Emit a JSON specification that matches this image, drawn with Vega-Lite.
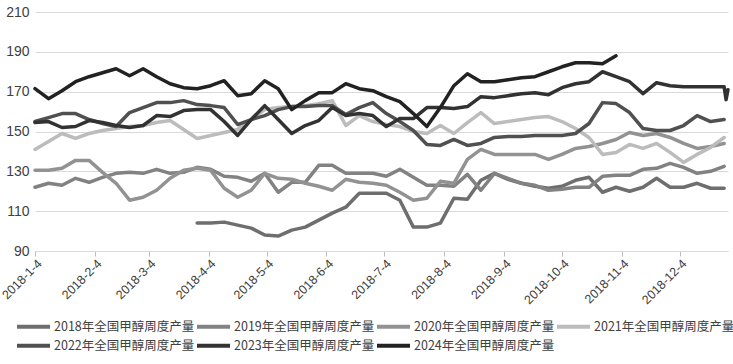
{
  "$schema": "https://vega.github.io/schema/vega-lite/v6.json",
  "width": 693,
  "height": 239,
  "autosize": {"type": "none"},
  "padding": {"left": 35, "top": 12, "right": 5, "bottom": 113},
  "background": "white",
  "config": {
    "view": {"stroke": null},
    "font": "Liberation Sans",
    "legend": {
      "orient": "none",
      "direction": "horizontal",
      "title": null,
      "symbolType": "stroke",
      "symbolStrokeWidth": 4,
      "symbolSize": 1089,
      "labelFont": "Noto Sans CJK SC",
      "labelFontSize": 12.5,
      "labelColor": "#404040",
      "labelOffset": 2,
      "labelLimit": 300,
      "columnPadding": -8
    }
  },
  "datasets": {
    "rows": [
      {"d":"2018-03-29","s":"2018","v":104},{"d":"2018-04-05","s":"2018","v":104},{"d":"2018-04-12","s":"2018","v":104.5},{"d":"2018-04-19","s":"2018","v":103},{"d":"2018-04-26","s":"2018","v":101.5},{"d":"2018-05-03","s":"2018","v":98},{"d":"2018-05-10","s":"2018","v":97.5},{"d":"2018-05-17","s":"2018","v":100.5},{"d":"2018-05-24","s":"2018","v":102},{"d":"2018-05-31","s":"2018","v":105.5},{"d":"2018-06-07","s":"2018","v":109},{"d":"2018-06-14","s":"2018","v":112},{"d":"2018-06-21","s":"2018","v":119},{"d":"2018-06-28","s":"2018","v":119},{"d":"2018-07-05","s":"2018","v":119},{"d":"2018-07-12","s":"2018","v":115.5},{"d":"2018-07-19","s":"2018","v":102},{"d":"2018-07-26","s":"2018","v":102},{"d":"2018-08-02","s":"2018","v":104},{"d":"2018-08-09","s":"2018","v":116.5},{"d":"2018-08-16","s":"2018","v":116},{"d":"2018-08-23","s":"2018","v":125.5},{"d":"2018-08-30","s":"2018","v":129},{"d":"2018-09-06","s":"2018","v":126},{"d":"2018-09-13","s":"2018","v":124},{"d":"2018-09-20","s":"2018","v":122.5},{"d":"2018-09-27","s":"2018","v":121.5},{"d":"2018-10-04","s":"2018","v":122.5},{"d":"2018-10-11","s":"2018","v":125.5},{"d":"2018-10-18","s":"2018","v":127},{"d":"2018-10-25","s":"2018","v":119.5},{"d":"2018-11-01","s":"2018","v":122},{"d":"2018-11-08","s":"2018","v":120},{"d":"2018-11-15","s":"2018","v":122},{"d":"2018-11-22","s":"2018","v":126.5},{"d":"2018-11-29","s":"2018","v":122},{"d":"2018-12-06","s":"2018","v":122},{"d":"2018-12-13","s":"2018","v":124},{"d":"2018-12-20","s":"2018","v":121.5},{"d":"2018-12-27","s":"2018","v":121.5},

      {"d":"2018-01-04","s":"2019","v":122},{"d":"2018-01-11","s":"2019","v":124},{"d":"2018-01-18","s":"2019","v":123},{"d":"2018-01-25","s":"2019","v":126.5},{"d":"2018-02-01","s":"2019","v":124.5},{"d":"2018-02-08","s":"2019","v":127},{"d":"2018-02-15","s":"2019","v":129},{"d":"2018-02-22","s":"2019","v":129.5},{"d":"2018-03-01","s":"2019","v":129},{"d":"2018-03-08","s":"2019","v":131},{"d":"2018-03-15","s":"2019","v":129},{"d":"2018-03-22","s":"2019","v":129.5},{"d":"2018-03-29","s":"2019","v":132},{"d":"2018-04-05","s":"2019","v":131},{"d":"2018-04-12","s":"2019","v":127.5},{"d":"2018-04-19","s":"2019","v":127},{"d":"2018-04-26","s":"2019","v":125},{"d":"2018-05-03","s":"2019","v":129},{"d":"2018-05-10","s":"2019","v":119.5},{"d":"2018-05-17","s":"2019","v":124.5},{"d":"2018-05-24","s":"2019","v":124.5},{"d":"2018-05-31","s":"2019","v":133},{"d":"2018-06-07","s":"2019","v":133},{"d":"2018-06-14","s":"2019","v":129},{"d":"2018-06-21","s":"2019","v":129},{"d":"2018-06-28","s":"2019","v":129},{"d":"2018-07-05","s":"2019","v":127.5},{"d":"2018-07-12","s":"2019","v":131},{"d":"2018-07-19","s":"2019","v":127},{"d":"2018-07-26","s":"2019","v":123},{"d":"2018-08-02","s":"2019","v":123},{"d":"2018-08-09","s":"2019","v":122.5},{"d":"2018-08-16","s":"2019","v":128.5},{"d":"2018-08-23","s":"2019","v":120.5},{"d":"2018-08-30","s":"2019","v":129},{"d":"2018-09-06","s":"2019","v":126.5},{"d":"2018-09-13","s":"2019","v":124},{"d":"2018-09-20","s":"2019","v":123},{"d":"2018-09-27","s":"2019","v":120.5},{"d":"2018-10-04","s":"2019","v":121},{"d":"2018-10-11","s":"2019","v":122},{"d":"2018-10-18","s":"2019","v":122},{"d":"2018-10-25","s":"2019","v":127.5},{"d":"2018-11-01","s":"2019","v":128},{"d":"2018-11-08","s":"2019","v":128},{"d":"2018-11-15","s":"2019","v":131},{"d":"2018-11-22","s":"2019","v":131.5},{"d":"2018-11-29","s":"2019","v":134},{"d":"2018-12-06","s":"2019","v":132},{"d":"2018-12-13","s":"2019","v":129},{"d":"2018-12-20","s":"2019","v":130},{"d":"2018-12-27","s":"2019","v":132.5},

      {"d":"2018-01-04","s":"2020","v":130.5},{"d":"2018-01-11","s":"2020","v":130.5},{"d":"2018-01-18","s":"2020","v":131.5},{"d":"2018-01-25","s":"2020","v":135.5},{"d":"2018-02-01","s":"2020","v":135.5},{"d":"2018-02-08","s":"2020","v":129.5},{"d":"2018-02-15","s":"2020","v":124},{"d":"2018-02-22","s":"2020","v":115.5},{"d":"2018-03-01","s":"2020","v":117},{"d":"2018-03-08","s":"2020","v":120.5},{"d":"2018-03-15","s":"2020","v":126.5},{"d":"2018-03-22","s":"2020","v":130.5},{"d":"2018-03-29","s":"2020","v":131.5},{"d":"2018-04-05","s":"2020","v":130.5},{"d":"2018-04-12","s":"2020","v":121.5},{"d":"2018-04-19","s":"2020","v":117},{"d":"2018-04-26","s":"2020","v":120.5},{"d":"2018-05-03","s":"2020","v":129},{"d":"2018-05-10","s":"2020","v":126.5},{"d":"2018-05-17","s":"2020","v":126},{"d":"2018-05-24","s":"2020","v":124},{"d":"2018-05-31","s":"2020","v":122.5},{"d":"2018-06-07","s":"2020","v":120.5},{"d":"2018-06-14","s":"2020","v":126},{"d":"2018-06-21","s":"2020","v":124.5},{"d":"2018-06-28","s":"2020","v":124},{"d":"2018-07-05","s":"2020","v":123},{"d":"2018-07-12","s":"2020","v":119.5},{"d":"2018-07-19","s":"2020","v":115.5},{"d":"2018-07-26","s":"2020","v":116.5},{"d":"2018-08-02","s":"2020","v":125},{"d":"2018-08-09","s":"2020","v":124},{"d":"2018-08-16","s":"2020","v":136},{"d":"2018-08-23","s":"2020","v":141},{"d":"2018-08-30","s":"2020","v":138.5},{"d":"2018-09-06","s":"2020","v":138.5},{"d":"2018-09-13","s":"2020","v":138.5},{"d":"2018-09-20","s":"2020","v":138.5},{"d":"2018-09-27","s":"2020","v":136},{"d":"2018-10-04","s":"2020","v":138.5},{"d":"2018-10-11","s":"2020","v":141.5},{"d":"2018-10-18","s":"2020","v":142.5},{"d":"2018-10-25","s":"2020","v":144},{"d":"2018-11-01","s":"2020","v":146},{"d":"2018-11-08","s":"2020","v":149.5},{"d":"2018-11-15","s":"2020","v":148},{"d":"2018-11-22","s":"2020","v":149},{"d":"2018-11-29","s":"2020","v":147},{"d":"2018-12-06","s":"2020","v":144},{"d":"2018-12-13","s":"2020","v":141.5},{"d":"2018-12-20","s":"2020","v":142.5},{"d":"2018-12-27","s":"2020","v":144},

      {"d":"2018-01-04","s":"2021","v":141},{"d":"2018-01-11","s":"2021","v":145},{"d":"2018-01-18","s":"2021","v":149},{"d":"2018-01-25","s":"2021","v":146.5},{"d":"2018-02-01","s":"2021","v":149},{"d":"2018-02-08","s":"2021","v":150.5},{"d":"2018-02-15","s":"2021","v":151.5},{"d":"2018-02-22","s":"2021","v":152.5},{"d":"2018-03-01","s":"2021","v":153},{"d":"2018-03-08","s":"2021","v":154.5},{"d":"2018-03-15","s":"2021","v":155.5},{"d":"2018-03-22","s":"2021","v":151},{"d":"2018-03-29","s":"2021","v":146.5},{"d":"2018-04-05","s":"2021","v":148},{"d":"2018-04-12","s":"2021","v":149.5},{"d":"2018-04-19","s":"2021","v":151},{"d":"2018-04-26","s":"2021","v":156},{"d":"2018-05-03","s":"2021","v":161},{"d":"2018-05-10","s":"2021","v":162},{"d":"2018-05-17","s":"2021","v":162.5},{"d":"2018-05-24","s":"2021","v":163},{"d":"2018-05-31","s":"2021","v":164},{"d":"2018-06-07","s":"2021","v":165.5},{"d":"2018-06-14","s":"2021","v":153},{"d":"2018-06-21","s":"2021","v":158},{"d":"2018-06-28","s":"2021","v":155},{"d":"2018-07-05","s":"2021","v":153.5},{"d":"2018-07-12","s":"2021","v":152.5},{"d":"2018-07-19","s":"2021","v":150},{"d":"2018-07-26","s":"2021","v":149},{"d":"2018-08-02","s":"2021","v":153},{"d":"2018-08-09","s":"2021","v":149},{"d":"2018-08-16","s":"2021","v":154.5},{"d":"2018-08-23","s":"2021","v":159.5},{"d":"2018-08-30","s":"2021","v":154},{"d":"2018-09-06","s":"2021","v":155},{"d":"2018-09-13","s":"2021","v":156},{"d":"2018-09-20","s":"2021","v":157},{"d":"2018-09-27","s":"2021","v":157.5},{"d":"2018-10-04","s":"2021","v":155},{"d":"2018-10-11","s":"2021","v":151.5},{"d":"2018-10-18","s":"2021","v":147},{"d":"2018-10-25","s":"2021","v":138.5},{"d":"2018-11-01","s":"2021","v":139.5},{"d":"2018-11-08","s":"2021","v":143.5},{"d":"2018-11-15","s":"2021","v":141.5},{"d":"2018-11-22","s":"2021","v":144},{"d":"2018-11-29","s":"2021","v":139.5},{"d":"2018-12-06","s":"2021","v":134.5},{"d":"2018-12-13","s":"2021","v":138.5},{"d":"2018-12-20","s":"2021","v":142},{"d":"2018-12-27","s":"2021","v":147},

      {"d":"2018-01-04","s":"2022","v":155},{"d":"2018-01-11","s":"2022","v":157},{"d":"2018-01-18","s":"2022","v":159},{"d":"2018-01-25","s":"2022","v":159},{"d":"2018-02-01","s":"2022","v":156},{"d":"2018-02-08","s":"2022","v":154},{"d":"2018-02-15","s":"2022","v":152.5},{"d":"2018-02-22","s":"2022","v":159.5},{"d":"2018-03-01","s":"2022","v":162},{"d":"2018-03-08","s":"2022","v":164.5},{"d":"2018-03-15","s":"2022","v":164.5},{"d":"2018-03-22","s":"2022","v":165.5},{"d":"2018-03-29","s":"2022","v":163.5},{"d":"2018-04-05","s":"2022","v":163},{"d":"2018-04-12","s":"2022","v":162},{"d":"2018-04-19","s":"2022","v":153.5},{"d":"2018-04-26","s":"2022","v":156},{"d":"2018-05-03","s":"2022","v":158},{"d":"2018-05-10","s":"2022","v":161},{"d":"2018-05-17","s":"2022","v":162.5},{"d":"2018-05-24","s":"2022","v":162.5},{"d":"2018-05-31","s":"2022","v":163},{"d":"2018-06-07","s":"2022","v":163},{"d":"2018-06-14","s":"2022","v":158.5},{"d":"2018-06-21","s":"2022","v":162},{"d":"2018-06-28","s":"2022","v":164.5},{"d":"2018-07-05","s":"2022","v":159},{"d":"2018-07-12","s":"2022","v":155},{"d":"2018-07-19","s":"2022","v":150.5},{"d":"2018-07-26","s":"2022","v":143.5},{"d":"2018-08-02","s":"2022","v":143},{"d":"2018-08-09","s":"2022","v":146},{"d":"2018-08-16","s":"2022","v":143},{"d":"2018-08-23","s":"2022","v":144},{"d":"2018-08-30","s":"2022","v":147},{"d":"2018-09-06","s":"2022","v":147.5},{"d":"2018-09-13","s":"2022","v":147.5},{"d":"2018-09-20","s":"2022","v":148},{"d":"2018-09-27","s":"2022","v":148},{"d":"2018-10-04","s":"2022","v":148},{"d":"2018-10-11","s":"2022","v":149},{"d":"2018-10-18","s":"2022","v":154},{"d":"2018-10-25","s":"2022","v":164.5},{"d":"2018-11-01","s":"2022","v":164},{"d":"2018-11-08","s":"2022","v":159.5},{"d":"2018-11-15","s":"2022","v":151.5},{"d":"2018-11-22","s":"2022","v":150.5},{"d":"2018-11-29","s":"2022","v":150.5},{"d":"2018-12-06","s":"2022","v":153},{"d":"2018-12-13","s":"2022","v":158},{"d":"2018-12-20","s":"2022","v":155},{"d":"2018-12-27","s":"2022","v":156},

      {"d":"2018-01-04","s":"2023","v":154.5},{"d":"2018-01-11","s":"2023","v":155},{"d":"2018-01-18","s":"2023","v":152},{"d":"2018-01-25","s":"2023","v":152.5},{"d":"2018-02-01","s":"2023","v":155.5},{"d":"2018-02-08","s":"2023","v":154.5},{"d":"2018-02-15","s":"2023","v":153},{"d":"2018-02-22","s":"2023","v":152},{"d":"2018-03-01","s":"2023","v":153},{"d":"2018-03-08","s":"2023","v":158},{"d":"2018-03-15","s":"2023","v":157.5},{"d":"2018-03-22","s":"2023","v":160.5},{"d":"2018-03-29","s":"2023","v":161},{"d":"2018-04-05","s":"2023","v":161},{"d":"2018-04-12","s":"2023","v":155},{"d":"2018-04-19","s":"2023","v":148},{"d":"2018-04-26","s":"2023","v":156},{"d":"2018-05-03","s":"2023","v":163},{"d":"2018-05-10","s":"2023","v":156},{"d":"2018-05-17","s":"2023","v":149},{"d":"2018-05-24","s":"2023","v":153},{"d":"2018-05-31","s":"2023","v":155.5},{"d":"2018-06-07","s":"2023","v":162},{"d":"2018-06-14","s":"2023","v":158},{"d":"2018-06-21","s":"2023","v":159},{"d":"2018-06-28","s":"2023","v":158},{"d":"2018-07-05","s":"2023","v":152.5},{"d":"2018-07-12","s":"2023","v":156.5},{"d":"2018-07-19","s":"2023","v":156.5},{"d":"2018-07-26","s":"2023","v":162},{"d":"2018-08-02","s":"2023","v":162},{"d":"2018-08-09","s":"2023","v":161.5},{"d":"2018-08-16","s":"2023","v":162.5},{"d":"2018-08-23","s":"2023","v":167.5},{"d":"2018-08-30","s":"2023","v":167},{"d":"2018-09-06","s":"2023","v":168},{"d":"2018-09-13","s":"2023","v":169},{"d":"2018-09-20","s":"2023","v":169.5},{"d":"2018-09-27","s":"2023","v":168.5},{"d":"2018-10-04","s":"2023","v":172},{"d":"2018-10-11","s":"2023","v":174},{"d":"2018-10-18","s":"2023","v":175},{"d":"2018-10-25","s":"2023","v":180},{"d":"2018-11-01","s":"2023","v":177.5},{"d":"2018-11-08","s":"2023","v":175},{"d":"2018-11-15","s":"2023","v":169},{"d":"2018-11-22","s":"2023","v":174.5},{"d":"2018-11-29","s":"2023","v":173},{"d":"2018-12-06","s":"2023","v":172.5},{"d":"2018-12-13","s":"2023","v":172.5},{"d":"2018-12-20","s":"2023","v":172.5},{"d":"2018-12-27","s":"2023","v":172.5},{"d":"2018-12-28","s":"2023","v":166},{"d":"2018-12-29","s":"2023","v":171},

      {"d":"2018-01-04","s":"2024","v":171.5},{"d":"2018-01-11","s":"2024","v":166.5},{"d":"2018-01-18","s":"2024","v":170.5},{"d":"2018-01-25","s":"2024","v":175},{"d":"2018-02-01","s":"2024","v":177.5},{"d":"2018-02-08","s":"2024","v":179.5},{"d":"2018-02-15","s":"2024","v":181.5},{"d":"2018-02-22","s":"2024","v":178},{"d":"2018-03-01","s":"2024","v":181.5},{"d":"2018-03-08","s":"2024","v":177.5},{"d":"2018-03-15","s":"2024","v":174},{"d":"2018-03-22","s":"2024","v":172},{"d":"2018-03-29","s":"2024","v":171.5},{"d":"2018-04-05","s":"2024","v":173},{"d":"2018-04-12","s":"2024","v":175.5},{"d":"2018-04-19","s":"2024","v":168},{"d":"2018-04-26","s":"2024","v":169},{"d":"2018-05-03","s":"2024","v":175.5},{"d":"2018-05-10","s":"2024","v":171.5},{"d":"2018-05-17","s":"2024","v":161},{"d":"2018-05-24","s":"2024","v":165.5},{"d":"2018-05-31","s":"2024","v":169.5},{"d":"2018-06-07","s":"2024","v":169.5},{"d":"2018-06-14","s":"2024","v":174},{"d":"2018-06-21","s":"2024","v":171.5},{"d":"2018-06-28","s":"2024","v":170.5},{"d":"2018-07-05","s":"2024","v":167.5},{"d":"2018-07-12","s":"2024","v":165},{"d":"2018-07-19","s":"2024","v":159},{"d":"2018-07-26","s":"2024","v":152.5},{"d":"2018-08-02","s":"2024","v":162},{"d":"2018-08-09","s":"2024","v":173},{"d":"2018-08-16","s":"2024","v":179},{"d":"2018-08-23","s":"2024","v":175},{"d":"2018-08-30","s":"2024","v":175},{"d":"2018-09-06","s":"2024","v":176},{"d":"2018-09-13","s":"2024","v":177},{"d":"2018-09-20","s":"2024","v":177.5},{"d":"2018-09-27","s":"2024","v":180},{"d":"2018-10-04","s":"2024","v":182.5},{"d":"2018-10-11","s":"2024","v":184.5},{"d":"2018-10-18","s":"2024","v":184.5},{"d":"2018-10-25","s":"2024","v":184},{"d":"2018-11-01","s":"2024","v":188}
    ]
  },
  "data": {"name": "rows"},
  "encoding": {
    "x": {
      "field": "d",
      "type": "temporal",
      "scale": {
        "type": "utc",
        "domain": [{"year": 2018, "month": 1, "date": 4, "utc": true}, {"year": 2018, "month": 12, "date": 29, "utc": true}]
      },
      "axis": {
        "title": null,
        "grid": false,
        "values": [
          {"year": 2018, "month": 1, "date": 4, "utc": true},
          {"year": 2018, "month": 2, "date": 4, "utc": true},
          {"year": 2018, "month": 3, "date": 4, "utc": true},
          {"year": 2018, "month": 4, "date": 4, "utc": true},
          {"year": 2018, "month": 5, "date": 4, "utc": true},
          {"year": 2018, "month": 6, "date": 4, "utc": true},
          {"year": 2018, "month": 7, "date": 4, "utc": true},
          {"year": 2018, "month": 8, "date": 4, "utc": true},
          {"year": 2018, "month": 9, "date": 4, "utc": true},
          {"year": 2018, "month": 10, "date": 4, "utc": true},
          {"year": 2018, "month": 11, "date": 4, "utc": true},
          {"year": 2018, "month": 12, "date": 4, "utc": true}
        ],
        "labelExpr": "utcFormat(datum.value, '%Y-%-m-%-d')",
        "labelAngle": -45,
        "labelAlign": "right",
        "labelBaseline": "top",
        "labelFontSize": 12.5,
        "labelColor": "#404040",
        "labelPadding": 1,
        "labelDx": 3,
        "labelOverlap": false,
        "labelFlush": false,
        "tickColor": "#bfbfbf",
        "tickSize": 5,
        "domainColor": "#d9d9d9"
      }
    },
    "y": {
      "field": "v",
      "type": "quantitative",
      "scale": {"domain": [90, 210], "nice": false, "zero": false},
      "axis": {
        "title": null,
        "values": [90, 110, 130, 150, 170, 190, 210],
        "grid": true,
        "gridColor": "#d9d9d9",
        "domain": false,
        "ticks": false,
        "labelFontSize": 14,
        "labelColor": "#404040",
        "labelPadding": 6
      }
    }
  },
  "layer": [
    {
      "transform": [{"filter": {"field": "s", "oneOf": ["2018", "2019", "2020", "2021"]}}],
      "mark": {"type": "line", "strokeWidth": 3.5, "strokeJoin": "round", "strokeCap": "round"},
      "encoding": {
        "color": {
          "field": "s",
          "type": "nominal",
          "scale": {
            "domain": ["2018", "2019", "2020", "2021"],
            "range": ["#6e6e6e", "#828282", "#929292", "#bcbcbc"]
          },
          "legend": {
            "legendX": -20,
            "legendY": 296,
            "columns": 4,
            "labelExpr": "datum.label + '年全国甲醇周度产量'"
          }
        }
      }
    },
    {
      "transform": [{"filter": {"field": "s", "oneOf": ["2022", "2023", "2024"]}}],
      "mark": {"type": "line", "strokeWidth": 3.5, "strokeJoin": "round", "strokeCap": "round"},
      "encoding": {
        "stroke": {
          "field": "s",
          "type": "nominal",
          "scale": {
            "domain": ["2022", "2023", "2024"],
            "range": ["#505050", "#323232", "#222222"]
          },
          "legend": {
            "legendX": -20,
            "legendY": 315,
            "columns": 4,
            "labelExpr": "datum.label + '年全国甲醇周度产量'"
          }
        }
      }
    }
  ]
}
